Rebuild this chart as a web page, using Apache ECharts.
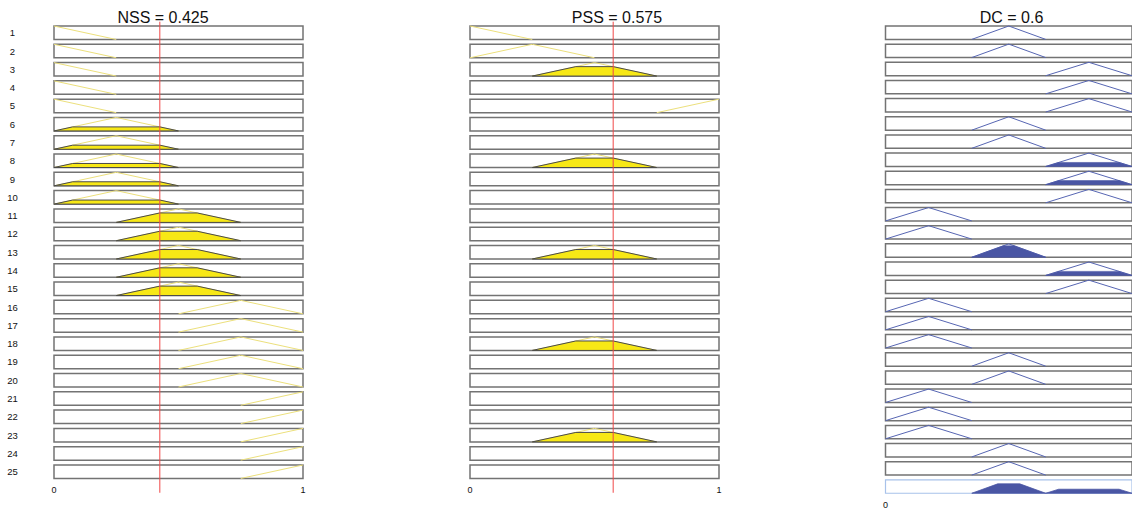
<!DOCTYPE html>
<html><head><meta charset="utf-8">
<script src="https://cdn.jsdelivr.net/npm/echarts@6/dist/echarts.min.js"></script>
<style>html,body{margin:0;padding:0;background:#fff}#c{width:1132px;height:509px}</style>
</head><body><div id="c"></div>
<script>
// ---------- data ----------
const rowLabels = ['1','2','3','4','5','6','7','8','9','10','11','12','13','14','15','16','17','18','19','20','21','22','23','24','25'];
const titles = ['NSS = 0.425', 'PSS = 0.575', 'DC = 0.6'];
const inputValues = [0.425, 0.575, 0.6];
const xTickLabels = ['0', '1'];

const nssMfParams = [[-0.25, 0, 0.25], [0, 0.25, 0.5], [0.25, 0.5, 0.75], [0.5, 0.75, 1], [0.75, 1, 1.25]];
const nssRowMf    = [0,0,0,0,0, 1,1,1,1,1, 2,2,2,2,2, 3,3,3,3,3, 4,4,4,4,4];
const nssRowLevel = [0,0,0,0,0, 0.3,0.3,0.3,0.3,0.3, 0.7,0.7,0.7,0.7,0.7, 0,0,0,0,0, 0,0,0,0,0];

const pssMfParams = [[-0.25, 0, 0.25], [0, 0.25, 0.5], [0.25, 0.5, 0.75], [0.5, 0.75, 1], [0.75, 1, 1.25]];
const pssRowMf    = [0,1,2,-1,4, -1,-1,2,-1,-1, -1,-1,2,-1,-1, -1,-1,2,-1,-1, -1,-1,2,-1,-1];
const pssRowLevel = [0,0,0.7,0,0, 0,0,0.7,0,0, 0,0,0.7,0,0, 0,0,0.7,0,0, 0,0,0.7,0,0];

const dcMfParams = [[0, 0.175, 0.35], [0.35, 0.5, 0.65], [0.65, 0.825, 1.0]];
const dcRowMf    = [1,1,2,2,2, 1,1,2,2,2, 0,0,1,2,2, 0,0,0,1,1, 0,0,0,1,1];
const dcRowLevel = [0,0,0,0,0, 0,0,0.3,0.3,0, 0,0,0.85,0.3,0, 0,0,0,0,0, 0,0,0,0,0];
const dcAggregateLevel = [0, 0.7, 0.3];

// ---------- style ----------
const H = 0.738;          // box height in row units
const PITCH = 18.29;      // px per row
const FONT = 'Liberation Sans, Arial, Helvetica, sans-serif';
const C = {
  yFill: '#f7e816', yLine: '#ece07c', dark: '#4a4a4a',
  bFill: '#4a56a4', bLine: '#5766b3',
  box: '#737373', agg: '#a8c2ea', red: '#f04848'
};

function mfVal(p, x) {
  const [a, b, c] = p;
  if (x <= a || x >= c) return x === b ? 1 : 0;
  return x < b ? (x - a) / (b - a) : (c - x) / (c - b);
}
function mfLine(p) {
  const lo = Math.max(p[0], 0), hi = Math.min(p[2], 1);
  const xs = [lo];
  if (p[1] > lo && p[1] < hi) xs.push(p[1]);
  xs.push(hi);
  return xs.map(x => [x, mfVal(p, x)]);
}
function clipped(p, L) {
  const [a, b, c] = p;
  return [[a, 0], [a + L * (b - a), L], [c - L * (c - b), L], [c, 0]];
}

function makeRender(mfParams, rowMf, rowLevel, fill, line, outline, aggLevels) {
  return function (params, api) {
    const r = api.value(1);
    const tl = api.coord([0, r]);
    const br = api.coord([1, r + H]);
    const toPx = pts => pts.map(q => api.coord([q[0], r + H - q[1] * H]));
    const isAgg = aggLevels && r === rowMf.length;
    const children = [{
      type: 'rect',
      shape: { x: tl[0], y: tl[1], width: br[0] - tl[0], height: br[1] - tl[1] },
      style: { fill: '#fff', stroke: isAgg ? C.agg : C.box, lineWidth: isAgg ? 1.2 : 1.5 }
    }];
    if (isAgg) {
      let pts = [];
      aggLevels.forEach((L, i) => { if (L > 0) pts = pts.concat(clipped(mfParams[i], L)); });
      children.push({ type: 'polygon', shape: { points: toPx(pts) }, style: { fill: fill, stroke: fill, lineWidth: 0.8 } });
    } else {
      const m = rowMf[r];
      if (m >= 0) {
        children.push({ type: 'polyline', shape: { points: toPx(mfLine(mfParams[m])) }, style: { fill: null, stroke: line, lineWidth: 1 } });
        const L = rowLevel[r];
        if (L > 0) {
          children.push({ type: 'polygon', shape: { points: toPx(clipped(mfParams[m], L)) },
            style: { fill: fill, stroke: outline || fill, lineWidth: outline ? 1 : 0.6 } });
        }
      }
    }
    return { type: 'group', children: children };
  };
}
function redLine(params, api) {
  const p0 = api.coord([api.value(0), -0.235]);
  const p1 = api.coord([api.value(0), 25.52]);
  return { type: 'line', shape: { x1: p0[0], y1: p0[1], x2: p1[0], y2: p1[1] }, style: { stroke: C.red, lineWidth: 1 } };
}

const rows25 = rowLabels.map((_, i) => [0.5, i]);
const rows26 = rows25.concat([[0.5, 25]]);

const xAx = (g, showMax) => ({
  gridIndex: g, type: 'value', min: 0, max: 1, interval: 1,
  axisLine: { show: false }, axisTick: { show: false }, splitLine: { show: false },
  axisLabel: { fontSize: 9, margin: 2, color: '#111', fontFamily: FONT, showMaxLabel: showMax,
    formatter: v => xTickLabels[Math.round(v)] }
});
const yAx = (g, max) => ({ gridIndex: g, type: 'value', min: 0, max: max, inverse: true, show: false });

const option = {
  animation: false,
  backgroundColor: '#fff',
  graphic: [
    { type: 'text', x: 163, y: 17, style: { text: titles[0], textAlign: 'center', textVerticalAlign: 'middle', fontSize: 16, fontFamily: FONT, fill: '#111' } },
    { type: 'text', x: 617, y: 17, style: { text: titles[1], textAlign: 'center', textVerticalAlign: 'middle', fontSize: 16, fontFamily: FONT, fill: '#111' } },
    { type: 'text', x: 1011.5, y: 17, style: { text: titles[2], textAlign: 'center', textVerticalAlign: 'middle', fontSize: 16, fontFamily: FONT, fill: '#111' } }
  ],
  grid: [
    { left: 54, top: 26, width: 249, height: 25 * PITCH },
    { left: 470, top: 26, width: 249, height: 25 * PITCH },
    { left: 885.5, top: 26, width: 249, height: 26 * PITCH },
    { left: 54, top: 26 + H * PITCH / 2 - PITCH / 2, width: 249, height: 25 * PITCH }
  ],
  xAxis: [xAx(0, true), xAx(1, true), xAx(2, false), { gridIndex: 3, type: 'value', show: false, min: 0, max: 1 }],
  yAxis: [yAx(0, 25), yAx(1, 25), yAx(2, 26), {
    gridIndex: 3, type: 'category', data: rowLabels, inverse: true,
    axisLine: { show: false }, axisTick: { show: false }, splitLine: { show: false },
    axisLabel: { margin: 41.5, align: 'center', fontSize: 9.5, color: '#111', fontFamily: FONT }
  }],
  series: [
    { type: 'custom', xAxisIndex: 0, yAxisIndex: 0, data: rows25, renderItem: makeRender(nssMfParams, nssRowMf, nssRowLevel, C.yFill, C.yLine, C.dark) },
    { type: 'custom', xAxisIndex: 1, yAxisIndex: 1, data: rows25, renderItem: makeRender(pssMfParams, pssRowMf, pssRowLevel, C.yFill, C.yLine, C.dark) },
    { type: 'custom', xAxisIndex: 2, yAxisIndex: 2, data: rows26, renderItem: makeRender(dcMfParams, dcRowMf, dcRowLevel, C.bFill, C.bLine, null, dcAggregateLevel) },
    { type: 'custom', xAxisIndex: 0, yAxisIndex: 0, data: [[inputValues[0], 0]], renderItem: redLine, z: 5 },
    { type: 'custom', xAxisIndex: 1, yAxisIndex: 1, data: [[inputValues[1], 0]], renderItem: redLine, z: 5 }
  ]
};
const chart = echarts.init(document.getElementById('c'), null, { renderer: 'svg' });
chart.setOption(option);
</script>
</body></html>
